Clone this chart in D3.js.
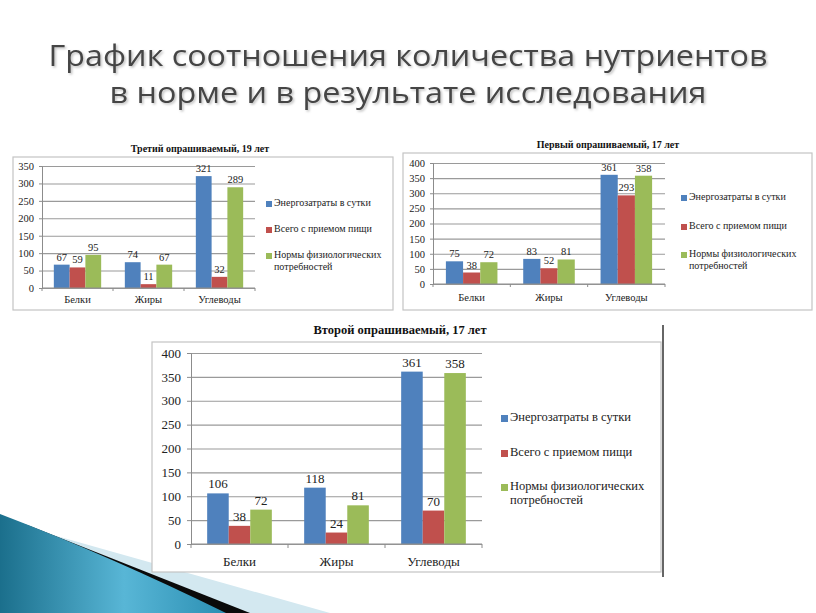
<!DOCTYPE html>
<html>
<head>
<meta charset="utf-8">
<script src="https://d3js.org/d3.v7.min.js"></script>
<style>
    body { margin: 0; background: #fff; }
</style>
</head>
<body>
<script>
// data
var categories = ["Белки", "Жиры", "Углеводы"],
    seriesNames = ["Энергозатраты в сутки", "Всего с приемом пищи", "Нормы физиологических потребностей"],
    colors = ["#4f81bd", "#c0504d", "#9bbb59"],
    mainTitle = ["График соотношения количества нутриентов", "в норме и в результате исследования"];

// one row per series: Белки, Жиры, Углеводы
var thirdTitle = "Третий опрашиваемый, 19 лет",
    thirdValues = [[67, 74, 321], [59, 11, 32], [95, 67, 289]],
    thirdTicks = [0, 50, 100, 150, 200, 250, 300, 350];

var firstTitle = "Первый опрашиваемый, 17 лет",
    firstValues = [[75, 83, 361], [38, 52, 293], [72, 81, 358]],
    firstTicks = [0, 50, 100, 150, 200, 250, 300, 350, 400];

var secondTitle = "Второй опрашиваемый, 17 лет",
    secondValues = [[106, 118, 361], [38, 24, 70], [72, 81, 358]],
    secondTicks = [0, 50, 100, 150, 200, 250, 300, 350, 400];

var SERIF = '"Liberation Serif", "Times New Roman", serif';
var W = 816, H = 613;
var svg = d3.select("body").append("svg").attr("width", W).attr("height", H);

// background swoosh, bottom left
var defs = svg.append("defs");
var grad = defs.append("linearGradient").attr("id", "teal")
    .attr("x1", "0").attr("y1", "0").attr("x2", "1").attr("y2", "0");
grad.append("stop").attr("offset", "0%").attr("stop-color", "#1b6f8c");
grad.append("stop").attr("offset", "55%").attr("stop-color", "#58b6d6");
grad.append("stop").attr("offset", "100%").attr("stop-color", "#2b8fb3");

var shadow = defs.append("filter").attr("id", "shadow")
    .attr("x", "-5%").attr("y", "-20%").attr("width", "110%").attr("height", "140%");
shadow.append("feDropShadow").attr("dx", 1.5).attr("dy", 1.5)
    .attr("stdDeviation", 1).attr("flood-color", "#000").attr("flood-opacity", 0.25);

svg.append("path").attr("d", "M0,520 L330,613 L0,613 Z").attr("fill", "#d3e8f0");
svg.append("path").attr("d", "M30,526 L250,613 L0,613 L0,516 Z").attr("fill", "#0a0a0a");
svg.append("path").attr("d", "M0,514 Q110,556 226,613 L0,613 Z").attr("fill", "url(#teal)");

// main title
svg.append("g").attr("filter", "url(#shadow)")
    .selectAll("text").data(mainTitle).enter().append("text")
    .text(function(d) { return d; })
    .attr("x", W / 2)
    .attr("y", function(d, i) { return 66 + i * 37; })
    .attr("text-anchor", "middle")
    .attr("textLength", function(d, i) { return i == 0 ? 719 : 597; })
    .attr("lengthAdjust", "spacingAndGlyphs")
    .style("font-family", "Open Sans").style("font-size", "29px")
    .style("fill", "#454545");

function drawChart(c) {
    var g = svg.append("g").attr("class", "chart");

    g.append("rect")
        .attr("x", c.frame[0]).attr("y", c.frame[1])
        .attr("width", c.frame[2] - c.frame[0]).attr("height", c.frame[3] - c.frame[1])
        .attr("fill", "#fff").attr("stroke", "#c4c4c4").attr("stroke-width", 1.2);

    g.append("text").text(c.title)
        .attr("x", c.titleX).attr("y", c.titleY)
        .attr("text-anchor", "middle")
        .style("font-family", SERIF).style("fill", "#111")
        .style("font-weight", "bold").style("font-size", c.titleSize + "px");

    var x = d3.scaleBand().domain(categories).range([c.left, c.right]);
    var y = d3.scaleLinear().domain([0, d3.max(c.ticks)]).range([c.bottom, c.top]);
    var inner = d3.scaleBand().domain(d3.range(seriesNames.length))
        .range([0, x.bandwidth()]).paddingInner(0).paddingOuter(0.75);

    // gridlines
    g.append("g").attr("transform", "translate(" + c.left + ",0)")
        .call(d3.axisLeft(y).tickValues(c.ticks).tickSize(-(c.right - c.left)).tickFormat(""))
        .call(function(s) {
            s.select(".domain").remove();
            s.selectAll(".tick line").attr("stroke", "#9a9a9a").attr("stroke-width", 1.1);
        });

    // bars
    c.values.forEach(function(vals, si) {
        g.selectAll(null).data(vals).enter().append("rect")
            .attr("x", function(d, i) { return x(categories[i]) + inner(si); })
            .attr("y", function(d) { return y(d); })
            .attr("width", inner.bandwidth())
            .attr("height", function(d) { return y(0) - y(d); })
            .attr("fill", colors[si]);
        g.selectAll(null).data(vals).enter().append("text")
            .text(function(d) { return d; })
            .attr("x", function(d, i) { return x(categories[i]) + inner(si) + inner.bandwidth() / 2; })
            .attr("y", function(d) { return y(d) - c.labelGap; })
            .attr("text-anchor", "middle")
            .style("font-family", SERIF).style("fill", "#222")
            .style("font-size", c.fontSize + "px");
    });

    // y axis
    g.append("g").attr("transform", "translate(" + c.left + ",0)")
        .call(d3.axisLeft(y).tickValues(c.ticks).tickSize(c.tick).tickPadding(c.pad))
        .call(function(s) {
            s.select(".domain").attr("stroke", "#8c8c8c");
            s.selectAll(".tick line").attr("stroke", "#8c8c8c");
            s.selectAll("text").style("font-family", SERIF)
                .style("font-size", c.fontSize + "px").attr("fill", "#222");
        });

    // x axis
    var xa = g.append("g").attr("transform", "translate(0," + c.bottom + ")");
    xa.append("line").attr("x1", c.left).attr("x2", c.right).attr("stroke", "#8c8c8c");
    xa.selectAll("line.sep").data(d3.range(categories.length + 1)).enter().append("line")
        .attr("class", "sep")
        .attr("x1", function(d) { return c.left + d * x.step(); })
        .attr("x2", function(d) { return c.left + d * x.step(); })
        .attr("y1", 0).attr("y2", c.tick).attr("stroke", "#8c8c8c");
    xa.selectAll("text").data(categories).enter().append("text")
        .text(function(d) { return d; })
        .attr("x", function(d) { return x(d) + x.bandwidth() / 2; })
        .attr("y", c.catGap)
        .attr("text-anchor", "middle")
        .style("font-family", SERIF).style("fill", "#222")
        .style("font-size", c.fontSize + "px");

    // legend
    var lg = g.append("g");
    seriesNames.forEach(function(name, i) {
        lg.append("rect")
            .attr("x", c.legX).attr("y", c.legY[i] - c.sq + 1)
            .attr("width", c.sq).attr("height", c.sq)
            .attr("fill", colors[i]);
        var t = lg.append("text").attr("x", c.legX + c.sq + 2).attr("y", c.legY[i])
            .style("font-family", SERIF).style("fill", "#222")
            .style("font-size", c.legSize + "px");
        var parts = i == 2 ? ["Нормы физиологических", "потребностей"] : [name];
        parts.forEach(function(p, k) {
            t.append("tspan").text(p)
                .attr("x", k == 0 ? c.legX + c.sq + 2 : c.legX + c.sq + 2)
                .attr("dy", k == 0 ? 0 : c.legLine);
        });
    });
}

drawChart({
    title: thirdTitle, values: thirdValues, ticks: thirdTicks,
    frame: [13, 157, 393, 310], titleX: 200, titleY: 152, titleSize: 10,
    left: 42, right: 255, top: 166, bottom: 288,
    fontSize: 10.5, legSize: 10, tick: 3, pad: 5, labelGap: 4, catGap: 15,
    legX: 266, legY: [206, 232, 258], sq: 6, legLine: 12
});

drawChart({
    title: firstTitle, values: firstValues, ticks: firstTicks,
    frame: [403, 153, 812, 310], titleX: 608, titleY: 148, titleSize: 10,
    left: 433, right: 665, top: 163, bottom: 284,
    fontSize: 10.5, legSize: 10, tick: 3, pad: 5, labelGap: 4, catGap: 17,
    legX: 681, legY: [200, 229, 257], sq: 6, legLine: 12
});

drawChart({
    title: secondTitle, values: secondValues, ticks: secondTicks,
    frame: [152, 342, 661, 572], titleX: 400, titleY: 334, titleSize: 12.5,
    left: 191, right: 482, top: 353, bottom: 544,
    fontSize: 13, legSize: 12.5, tick: 4, pad: 6, labelGap: 5, catGap: 22,
    legX: 501, legY: [421, 456, 490], sq: 7, legLine: 14
});

// dark edge at the right of the lower picture
svg.append("line").attr("x1", 663).attr("x2", 663).attr("y1", 325).attr("y2", 577)
    .attr("stroke", "#333").attr("stroke-width", 1.5);
</script>
</body>
</html>
